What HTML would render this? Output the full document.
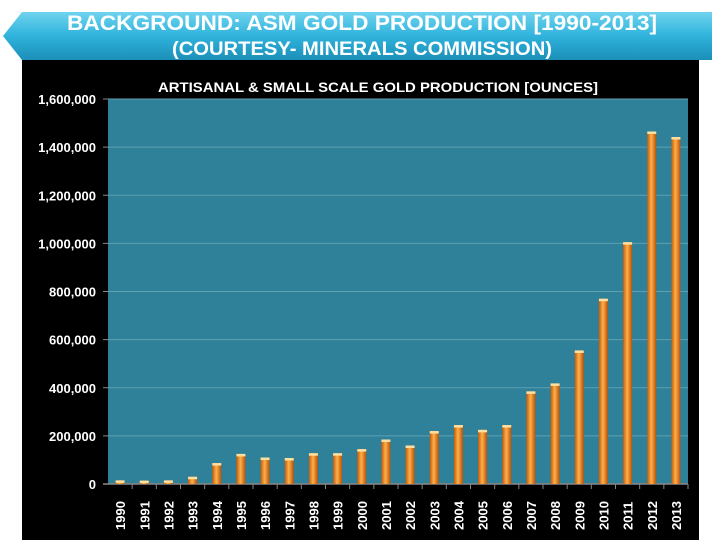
<!DOCTYPE html>
<html><head><meta charset="utf-8"><style>
body{margin:0;width:720px;height:540px;background:#fff;overflow:hidden;font-family:"Liberation Sans",sans-serif}
</style></head><body>
<svg width="720" height="540">
<defs>
<linearGradient id="ban" x1="0" y1="0" x2="0" y2="1"><stop offset="0" stop-color="#6fd3ee"/><stop offset="0.5" stop-color="#2fb3dc"/><stop offset="1" stop-color="#1b8fb8"/></linearGradient>
<linearGradient id="bar" x1="0" y1="0" x2="1" y2="0"><stop offset="0" stop-color="#c45a0a"/><stop offset="0.45" stop-color="#ffb04a"/><stop offset="1" stop-color="#b85208"/></linearGradient>
</defs>
<rect x="22" y="60" width="677" height="480" fill="#000"/>
<polygon points="22,12 712,12 712,60 22,60 3,36" fill="url(#ban)"/>
<text x="362" y="30" text-anchor="middle" font-size="21" fill="#fff" font-weight="bold" textLength="590" lengthAdjust="spacingAndGlyphs">BACKGROUND: ASM GOLD PRODUCTION [1990-2013]</text>
<text x="362" y="55" text-anchor="middle" font-size="19" fill="#fff" font-weight="bold" textLength="380" lengthAdjust="spacingAndGlyphs">(COURTESY- MINERALS COMMISSION)</text>
<text x="378" y="92" text-anchor="middle" font-size="14" fill="#fff" font-weight="bold" textLength="440" lengthAdjust="spacingAndGlyphs">ARTISANAL &amp; SMALL SCALE  GOLD PRODUCTION [OUNCES]</text>
<rect x="108" y="99" width="580" height="385" fill="#2f8199"/>
<g id="g"></g>
</svg>
<script>
const years=["1990","1991","1992","1993","1994","1995","1996","1997","1998","1999","2000","2001","2002","2003","2004","2005","2006","2007","2008","2009","2010","2011","2012","2013"];
const values=[15000,14000,15000,30000,87000,125000,110000,108000,128000,128000,145000,185000,160000,220000,245000,225000,245000,385000,418000,555000,770000,1005000,1465000,1442000];
const ticks=[0,200000,400000,600000,800000,1000000,1200000,1400000,1600000];
const ns="http://www.w3.org/2000/svg",g=document.getElementById('g');
const X0=108,X1=688,Y0=484,Y1=99,MAX=1600000;
const y=v=>Y0-(v/MAX)*(Y0-Y1);
const bw=(X1-X0)/years.length;
const xc=i=>X0+bw*(i+0.5);
function mk(t,a){const e=document.createElementNS(ns,t);for(const k in a)e.setAttribute(k,a[k]);g.appendChild(e);return e;}
ticks.forEach(t=>{
 if(t>0){const l=mk('line',{x1:X0,x2:X1,y1:y(t),y2:y(t),stroke:'#5fa0b3','stroke-width':1});
 
 }
 const tk=mk('line',{x1:X0-5,x2:X0,y1:y(t),y2:y(t),stroke:'#888'});
 
 
 const tx=mk('text',{x:X0-12,y:y(t)+5,'text-anchor':'end','font-size':13,'font-weight':'bold',fill:'#fff'});
 tx.textContent=t.toLocaleString('en-US');
 
 
});
const ax=mk('line',{x1:X0-5,x2:X1,y1:Y0,y2:Y0,stroke:'#888','stroke-width':1.5});


years.forEach((yr,i)=>{
 const v=values[i],w=9;
 const b=mk('rect',{x:xc(i)-w/2,y:y(v),width:w,height:Y0-y(v),fill:'url(#bar)'});
 
 
 const c=mk('rect',{x:xc(i)-w/2,y:y(v),width:w,height:2.5,fill:'#ffe0a0'});
 
 
 const tk=mk('line',{x1:X0+bw*(i+1),x2:X0+bw*(i+1),y1:Y0,y2:Y0+5,stroke:'#888'});
 
 
 const t=mk('text',{x:0,y:0,'font-size':13,'font-weight':'bold',fill:'#fff',transform:`translate(${xc(i)+5},${Y0+46}) rotate(-90)`});
 t.textContent=yr;
 
 
});
</script>
</body></html>
